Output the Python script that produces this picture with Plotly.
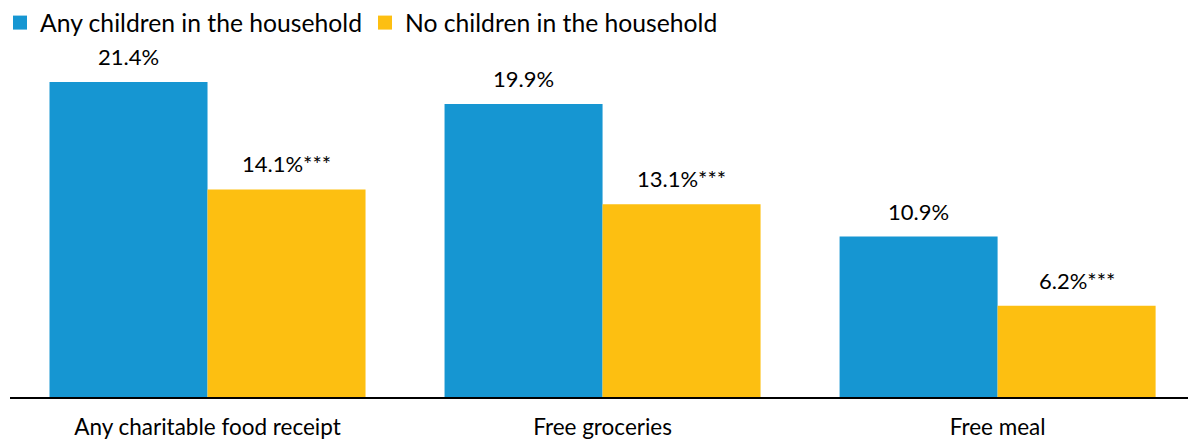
import plotly.graph_objects as go

categories = ["Any charitable food receipt", "Free groceries", "Free meal"]
with_children = [21.4, 19.9, 10.9]
no_children = [14.1, 13.1, 6.2]
with_labels = ["21.4%", "19.9%", "10.9%"]
no_labels = ["14.1%***", "13.1%***", "6.2%***"]
series_names = ["Any children in the household", "No children in the household"]

FONT = "Lato, 'Open Sans', sans-serif"
BLUE = "#1696d2"
YELLOW = "#fdbf11"

fig = go.Figure()
fig.add_trace(go.Bar(
    name=series_names[0], x=categories, y=with_children,
    marker_color=BLUE, marker_line_width=0, showlegend=False,
))
fig.add_trace(go.Bar(
    name=series_names[1], x=categories, y=no_children,
    marker_color=YELLOW, marker_line_width=0, showlegend=False,
))
# legend entries with square swatches
for name, col in zip(series_names, [BLUE, YELLOW]):
    fig.add_trace(go.Scatter(
        name=name, x=[None], y=[None], mode="markers",
        marker=dict(symbol="square", size=14, color=col, line_width=0),
        showlegend=True, hoverinfo="skip",
    ))

# bar half-offset in pixels: category spacing * (1 - gap) / 4
PLOT_W = 1178
RANGE = [-0.5, 2.482]
spacing_px = PLOT_W / (RANGE[1] - RANGE[0])
half = spacing_px * 0.8 / 4

for cat, v, lab in zip(categories, with_children, with_labels):
    fig.add_annotation(x=cat, y=v, text=lab, showarrow=False, xanchor="center",
                       yanchor="bottom", xshift=-half, yshift=10,
                       font=dict(size=22, family=FONT, color="#000000"))
for cat, v, lab in zip(categories, no_children, no_labels):
    fig.add_annotation(x=cat, y=v, text=lab, showarrow=False, xanchor="center",
                       yanchor="bottom", xshift=half, yshift=10,
                       font=dict(size=22, family=FONT, color="#000000"))

fig.update_layout(
    width=1188, height=442,
    margin=dict(l=10, r=0, t=50, b=45),
    paper_bgcolor="white", plot_bgcolor="white",
    barmode="group", bargap=0.2, bargroupgap=0,
    font=dict(family=FONT, size=22, color="#000000"),
    showlegend=True,
    legend=dict(orientation="h", x=-0.0085, xanchor="left", y=1.144, yanchor="top",
                yref="paper", xref="paper",
                font=dict(size=24.7, family=FONT, color="#000000"),
                itemwidth=30, tracegroupgap=0, entrywidth=320, entrywidthmode="pixels"),
    xaxis=dict(range=RANGE, showline=True, linecolor="#000000", linewidth=2,
               ticks="", ticklabelstandoff=9,
               tickfont=dict(size=22.5, family=FONT, color="#000000"),
               showgrid=False),
    yaxis=dict(range=[0, 23.57], visible=False, showgrid=False),
)
fig.write_html("out.html")
